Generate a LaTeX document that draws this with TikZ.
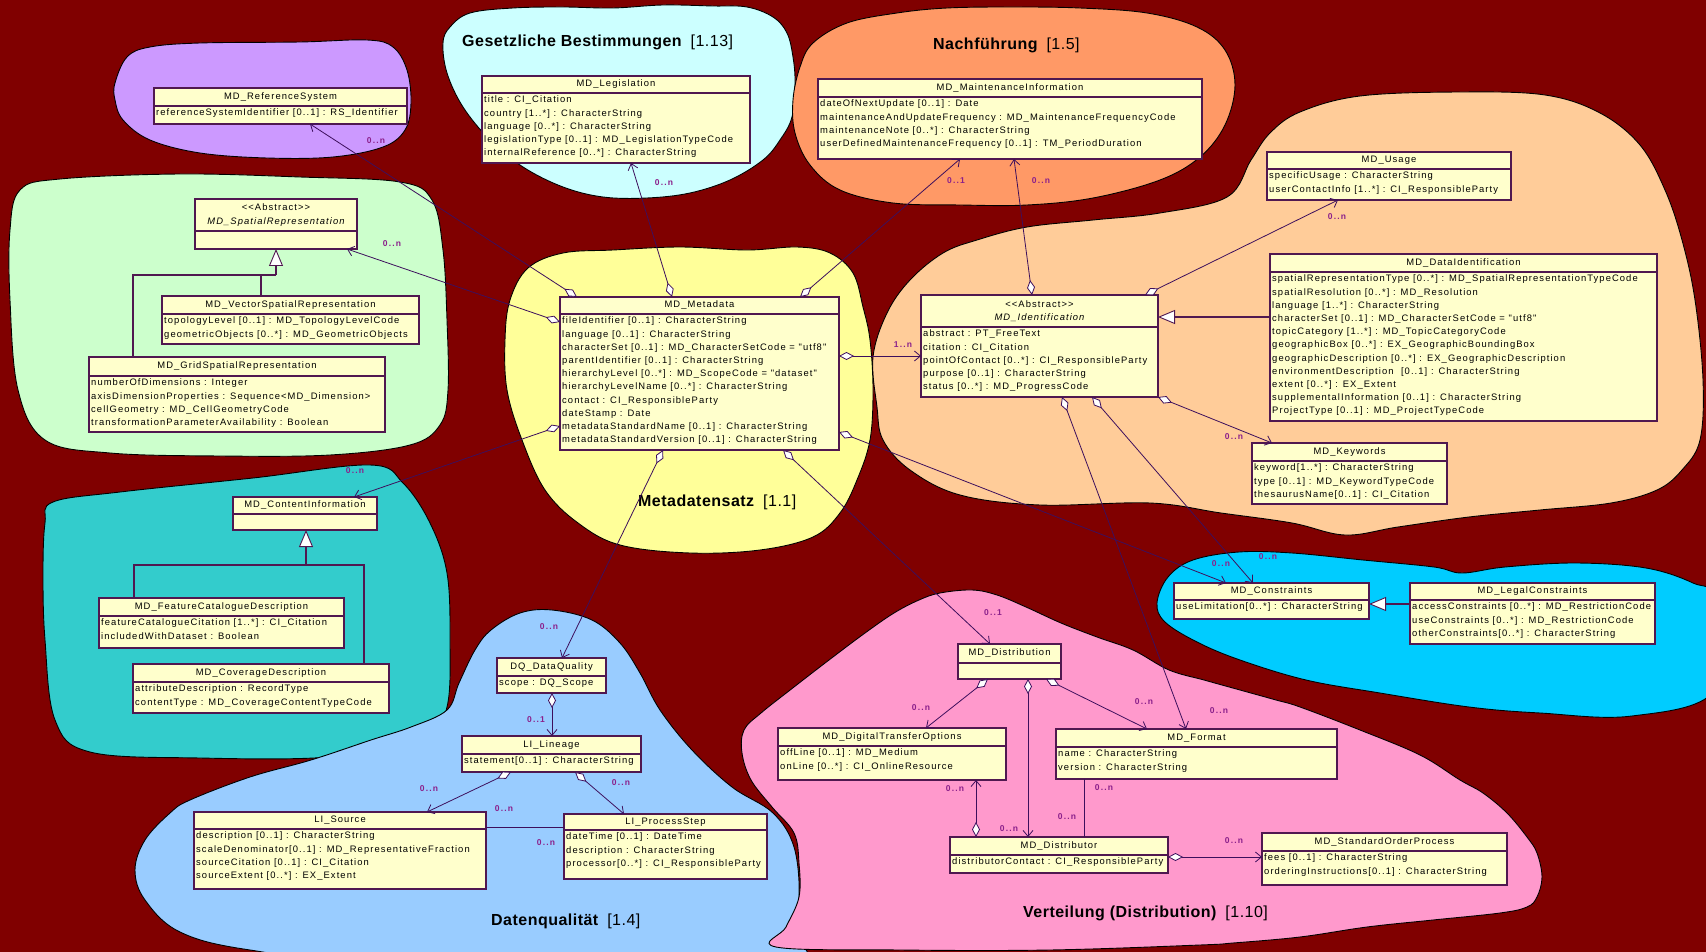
\documentclass[tikz,border=0pt]{standalone}
\usepackage{fontspec}
\setmainfont{Liberation Sans}
\newfontfamily\umlfont[LetterSpace=11.5]{Liberation Sans}
\newfontfamily\multfont[LetterSpace=14]{Liberation Sans}
\newfontfamily\areafont[LetterSpace=3]{Liberation Sans}
\usetikzlibrary{arrows.meta}

\definecolor{bgred}{HTML}{800000}
\definecolor{lilac}{HTML}{CC99FF}
\definecolor{palecyan}{HTML}{CCFFFF}
\definecolor{apricot}{HTML}{FF9966}
\definecolor{palegreen}{HTML}{CCFFCC}
\definecolor{paleyellow}{HTML}{FFFF99}
\definecolor{peach}{HTML}{FFCC99}
\definecolor{teal}{HTML}{33CCCC}
\definecolor{skycyan}{HTML}{00CCFF}
\definecolor{paleblue}{HTML}{99CCFF}
\definecolor{rosepink}{HTML}{FF99CC}
\definecolor{boxfill}{HTML}{FFFFCC}
\definecolor{boxborder}{HTML}{501850}
\definecolor{connline}{HTML}{3D0F5C}
\definecolor{multcol}{HTML}{8B208B}

% one UML class: name, x1, y1, x2, y2, y of the divider, header, attributes
\newcommand\umlclass[8]{%
  \node[classbox, anchor=north west, minimum width={(#4-#2)*1pt},
        minimum height={(#5-#3)*1pt}] (#1) at (#2,#3) {};
  \draw[divider] (#2,#6) -- (#4,#6);
  \node[headtext] at ({(#2+#4)/2},{(#3+#6)/2}) {\rule[-2pt]{0pt}{8.6pt}#7};
  \node[attrtext] at ({#2+2},{#6+2.7}) {\rule{0pt}{7pt}#8};
}

\begin{document}
\begin{tikzpicture}[x=1pt,y=-1pt,
  blob/.style={draw=black, line width=0.9pt},
  classbox/.style={draw=boxborder, fill=boxfill, line width=1.1pt, inner sep=0pt, outer sep=0pt},
  divider/.style={draw=boxborder, line width=1.1pt},
  headtext/.style={font=\umlfont\fontsize{9.4}{13.2}\selectfont, inner sep=0pt, align=center},
  attrtext/.style={font=\umlfont\fontsize{9.4}{13.2}\selectfont, inner sep=0pt, align=left, anchor=north west},
  mult/.style={font=\multfont\bfseries\fontsize{8.5}{10}\selectfont, text=multcol, inner sep=0pt},
  areatitle/.style={font=\areafont\fontsize{16}{19}\selectfont, text=black, inner sep=0pt, anchor=west},
  conn/.style={draw=connline, line width=0.8pt},
  agg/.style={conn, arrows={Diamond[fill=white,length=15pt,width=8pt]-Straight Barb[length=6pt,width=10pt]}},
  gen/.style={draw=boxborder, line width=1.1pt, arrows={-Triangle[fill=white,length=17pt,width=14pt,line width=0.9pt]}},
  tree/.style={draw=boxborder, line width=1.1pt}
]
\useasboundingbox (0,0) rectangle (1706,952);
\fill[bgred] (0,0) rectangle (1706,952);

% subject areas
\begin{scope}
\clip (0,0) rectangle (1706,952);
\draw[blob, fill=lilac] plot[smooth cycle, tension=0.6] coordinates {
  (115,83) (127,57) (150,47) (200,43) (300,42) (367,40) (393,47) (407,70) (411,103)
  (405,130) (383,147) (333,157) (267,158) (200,153) (150,140) (123,120) (115,100)};
\draw[blob, fill=palecyan] plot[smooth cycle, tension=0.6] coordinates {
  (443,43) (450,27) (470,13) (513,8) (563,7) (613,8) (663,5) (713,6) (747,7) (773,17)
  (787,33) (793,57) (795,83) (792,117) (780,140) (763,160) (730,180) (690,193) (647,198)
  (603,197) (563,187) (523,167) (490,140) (463,107) (447,73)};
\draw[blob, fill=apricot] plot[smooth cycle, tension=0.6] coordinates {
  (795,133) (793,100) (800,67) (813,43) (847,23) (897,13) (947,8) (1013,7) (1080,8)
  (1147,13) (1197,27) (1225,50) (1235,85) (1225,125) (1200,157) (1160,180) (1093,198)
  (1027,205) (960,205) (893,203) (840,190) (810,165)};
\draw[blob, fill=palegreen] plot[smooth cycle, tension=0.6] coordinates {
  (20,190) (60,179) (180,174) (300,177) (400,182) (432,200) (443,250) (447,320) (448,390)
  (440,425) (410,445) (330,455) (220,456) (110,453) (45,440) (18,390) (10,300) (10,230)};
\draw[blob, fill=peach] plot[smooth cycle, tension=0.6] coordinates {
  (877,407) (873,357) (887,313) (910,280) (943,253) (977,240) (1027,227) (1093,220)
  (1160,213) (1227,197) (1251,160) (1270,133) (1300,112) (1360,96) (1460,92) (1545,95)
  (1600,113) (1640,145) (1665,190) (1682,240) (1695,300) (1703,380) (1700,440) (1682,470)
  (1657,490) (1611,503) (1540,510) (1469,517) (1398,527) (1345,535) (1292,523) (1221,513)
  (1150,503) (1040,505) (960,495) (910,470) (883,440)};
\draw[blob, fill=paleyellow] plot[smooth cycle, tension=0.6] coordinates {
  (510,300) (528,268) (563,253) (613,250) (680,247) (747,250) (797,247) (830,253)
  (853,273) (863,307) (870,340) (873,390) (870,440) (857,480) (840,513) (813,537)
  (760,550) (690,553) (620,545) (578,523) (545,490) (522,440) (507,390) (505,340)};
\draw[blob, fill=teal] plot[smooth cycle, tension=0.6] coordinates {
  (53,502) (120,492) (253,478) (370,465) (403,483) (430,523) (447,573) (450,640)
  (447,707) (425,740) (330,757) (200,758) (90,752) (55,720) (45,640) (43,573) (45,523)};
\draw[blob, fill=skycyan] plot[smooth cycle, tension=0.6] coordinates {
  (1157,603) (1168,577) (1193,560) (1239,552) (1292,553) (1363,560) (1434,567) (1462,573)
  (1505,567) (1576,563) (1646,568) (1693,583) (1715,600) (1715,690) (1632,716) (1540,713)
  (1469,707) (1380,693) (1306,680) (1240,660) (1197,642) (1165,622)};
\draw[blob, fill=paleblue] plot[smooth cycle, tension=0.6] coordinates {
  (520,613) (552,610) (592,620) (620,643) (640,673) (660,710) (692,750) (732,787)
  (773,813) (794,847) (799,897) (790,930) (776,965) (400,965) (250,950) (180,932)
  (145,900) (135,870) (145,840) (170,813) (190,800) (250,777) (311,760) (371,740)
  (411,727) (447,710) (459,683) (475,650) (491,630)};
\draw[blob, fill=rosepink] plot[smooth cycle, tension=0.6] coordinates {
  (894,613) (919,600) (940,593) (972,590) (997,595) (1026,607) (1061,623) (1097,637)
  (1133,650) (1169,670) (1204,680) (1240,690) (1276,700) (1300,707) (1360,730) (1420,755)
  (1460,780) (1483,793) (1507,813) (1527,837) (1537,853) (1542,877) (1537,897) (1527,907)
  (1500,913) (1433,920) (1367,927) (1300,937) (1233,943) (1200,945) (1050,950) (900,950)
  (776,947) (786,927) (799,897) (799,863) (794,833) (772,807) (751,780) (742,753)
  (744,730) (761,713) (794,687) (829,660) (865,633)};
\end{scope}

% area titles
\node[areatitle] at (462,42) {\bfseries Gesetzliche Bestimmungen\hspace{9pt}\mdseries[1.13]};
\node[areatitle] at (933,45) {\bfseries Nachführung\hspace{9pt}\mdseries[1.5]};
\node[areatitle] at (638,502) {\bfseries Metadatensatz\hspace{9pt}\mdseries[1.1]};
\node[areatitle] at (491,921) {\bfseries Datenqualität\hspace{9pt}\mdseries[1.4]};
\node[areatitle] at (1023,913) {\bfseries Verteilung (Distribution)\hspace{9pt}\mdseries[1.10]};

% classes
\umlclass{refsys}{154}{88}{407}{124}{106}{MD\_ReferenceSystem}
  {referenceSystemIdentifier [0..1] : RS\_Identifier}
\umlclass{legis}{482}{76}{750}{163}{93}{MD\_Legislation}
  {title : CI\_Citation\\country [1..*] : CharacterString\\language [0..*] : CharacterString\\legislationType [0..1] : MD\_LegislationTypeCode\\internalReference [0..*] : CharacterString}
\umlclass{maint}{818}{79}{1202}{159}{97}{MD\_MaintenanceInformation}
  {dateOfNextUpdate [0..1] : Date\\maintenanceAndUpdateFrequency : MD\_MaintenanceFrequencyCode\\maintenanceNote [0..*] : CharacterString\\userDefinedMaintenanceFrequency [0..1] : TM\_PeriodDuration}
\umlclass{usage}{1267}{152}{1511}{200}{169}{MD\_Usage}
  {specificUsage : CharacterString\\userContactInfo [1..*] : CI\_ResponsibleParty}
\umlclass{spatial}{195}{199}{357}{249}{231}{<{}<Abstract>{}>\\\itshape MD\_SpatialRepresentation}{}
\umlclass{vector}{162}{296}{419}{344}{314}{MD\_VectorSpatialRepresentation}
  {topologyLevel [0..1] : MD\_TopologyLevelCode\\geometricObjects [0..*] : MD\_GeometricObjects}
\umlclass{grid}{89}{357}{385}{432}{376}{MD\_GridSpatialRepresentation}
  {numberOfDimensions : Integer\\axisDimensionProperties : Sequence<MD\_Dimension>\\cellGeometry : MD\_CellGeometryCode\\transformationParameterAvailability : Boolean}
\umlclass{meta}{560}{297}{839}{450}{314}{MD\_Metadata}
  {fileIdentifier [0..1] : CharacterString\\language [0..1] : CharacterString\\characterSet [0..1] : MD\_CharacterSetCode = "utf8"\\parentIdentifier [0..1] : CharacterString\\hierarchyLevel [0..*] : MD\_ScopeCode = "dataset"\\hierarchyLevelName [0..*] : CharacterString\\contact : CI\_ResponsibleParty\\dateStamp : Date\\metadataStandardName [0..1] : CharacterString\\metadataStandardVersion [0..1] : CharacterString}
\umlclass{ident}{921}{295}{1158}{397}{327}{<{}<Abstract>{}>\\\itshape MD\_Identification}
  {abstract : PT\_FreeText\\citation : CI\_Citation\\pointOfContact [0..*] : CI\_ResponsibleParty\\purpose [0..1] : CharacterString\\status [0..*] : MD\_ProgressCode}
\umlclass{dataid}{1270}{254}{1657}{421}{272}{MD\_DataIdentification}
  {spatialRepresentationType [0..*] : MD\_SpatialRepresentationTypeCode\\spatialResolution [0..*] : MD\_Resolution\\language [1..*] : CharacterString\\characterSet [0..1] : MD\_CharacterSetCode = "utf8"\\topicCategory [1..*] : MD\_TopicCategoryCode\\geographicBox [0..*] : EX\_GeographicBoundingBox\\geographicDescription [0..*] : EX\_GeographicDescription\\environmentDescription\ \ [0..1] : CharacterString\\extent [0..*] : EX\_Extent\\supplementalInformation [0..1] : CharacterString\\ProjectType [0..1] : MD\_ProjectTypeCode}
\umlclass{keyw}{1252}{443}{1447}{504}{461}{MD\_Keywords}
  {keyword[1..*] : CharacterString\\type [0..1] : MD\_KeywordTypeCode\\thesaurusName[0..1] : CI\_Citation}
\umlclass{constr}{1174}{583}{1369}{619}{600}{MD\_Constraints}
  {useLimitation[0..*] : CharacterString}
\umlclass{legal}{1410}{583}{1655}{644}{600}{MD\_LegalConstraints}
  {accessConstraints [0..*] : MD\_RestrictionCode\\useConstraints [0..*] : MD\_RestrictionCode\\otherConstraints[0..*] : CharacterString}
\umlclass{content}{233}{497}{377}{530}{514}{MD\_ContentInformation}{}
\umlclass{featcat}{99}{598}{344}{648}{616}{MD\_FeatureCatalogueDescription}
  {featureCatalogueCitation [1..*] : CI\_Citation\\includedWithDataset : Boolean}
\umlclass{coverage}{133}{664}{389}{713}{682}{MD\_CoverageDescription}
  {attributeDescription : RecordType\\contentType : MD\_CoverageContentTypeCode}
\umlclass{dq}{497}{658}{606}{693}{676}{DQ\_DataQuality}{scope : DQ\_Scope}
\umlclass{lineage}{462}{736}{641}{772}{754}{LI\_Lineage}{statement[0..1] : CharacterString}
\umlclass{source}{194}{812}{486}{889}{829}{LI\_Source}
  {description [0..1] : CharacterString\\scaleDenominator[0..1] : MD\_RepresentativeFraction\\sourceCitation [0..1] : CI\_Citation\\sourceExtent [0..*] : EX\_Extent}
\umlclass{pstep}{564}{814}{767}{879}{830}{LI\_ProcessStep}
  {dateTime [0..1] : DateTime\\description : CharacterString\\processor[0..*] : CI\_ResponsibleParty}
\umlclass{distr}{958}{644}{1061}{679}{663}{MD\_Distribution}{}
\umlclass{dto}{778}{728}{1006}{780}{746}{MD\_DigitalTransferOptions}
  {offLine [0..1] : MD\_Medium\\onLine [0..*] : CI\_OnlineResource}
\umlclass{format}{1056}{729}{1337}{779}{747}{MD\_Format}
  {name : CharacterString\\version : CharacterString}
\umlclass{distor}{950}{837}{1168}{873}{855}{MD\_Distributor}
  {distributorContact : CI\_ResponsibleParty}
\umlclass{sop}{1262}{833}{1507}{885}{851}{MD\_StandardOrderProcess}
  {fees [0..1] : CharacterString\\orderingInstructions[0..1] : CharacterString}

% associations of MD_Metadata
\draw[agg] ([xshift=17pt]meta.north west) -- ([xshift=156pt]refsys.south west);
\draw[agg] ([xshift=112pt]meta.north west) -- ([xshift=149pt]legis.south west);
\draw[agg] ([xshift=240pt]meta.north west) -- ([xshift=142pt]maint.south west);
\draw[agg] ([yshift=-25pt]meta.north west) -- ([xshift=152pt]spatial.south west);
\draw[agg] ([yshift=-129pt]meta.north west) -- ([xshift=121pt]content.north west);
\draw[agg] ([yshift=-59pt]meta.north east) -- ([yshift=-61pt]ident.north west);
\draw[agg] ([yshift=-135pt]meta.north east) -- ([xshift=52pt]constr.north west);
\draw[agg] ([xshift=103pt]meta.south west) -- ([xshift=65pt]dq.north west);
\draw[agg] ([xshift=223pt]meta.south west) -- ([xshift=32pt]distr.north west);

% associations of MD_Identification
\draw[agg] ([xshift=111pt]ident.north west) -- ([xshift=196pt]maint.south west);
\draw[agg] ([xshift=224pt]ident.north west) -- ([xshift=71pt]usage.south west);
\draw[agg] (ident.south east) -- ([xshift=20pt]keyw.north west);
\draw[agg] ([xshift=141pt]ident.south west) -- ([xshift=130pt]format.north west);
\draw[agg] ([xshift=171pt]ident.south west) -- ([xshift=79pt]constr.north west);

% generalisations
\draw[gen] ([yshift=-63pt]dataid.north west) -- ([yshift=-22pt]ident.north east);
\draw[gen] ([yshift=-21pt]legal.north west) -- ([yshift=-21pt]constr.north east);
\coordinate (sjoin) at (276,275);
\draw[gen] (sjoin) -- ([xshift=81pt]spatial.south west);
\draw[tree] ([xshift=44pt]grid.north west) |- (sjoin);
\draw[tree] ([xshift=99pt]vector.north west) |- (sjoin);
\coordinate (cjoin) at (306,565);
\draw[gen] (cjoin) -- ([xshift=73pt]content.south west);
\draw[tree] ([xshift=35pt]featcat.north west) |- (cjoin);
\draw[tree] ([xshift=231pt]coverage.north west) |- (cjoin);

% distribution
\draw[agg] ([xshift=30pt]distr.south west) -- ([xshift=148pt]dto.north west);
\draw[agg] ([xshift=70pt]distr.south west) -- ([xshift=78pt]distor.north west);
\draw[agg] ([xshift=88pt]distr.south west) -- ([xshift=91pt]format.north west);
\draw[agg] ([xshift=26pt]distor.north west) -- ([xshift=198pt]dto.south west);
\draw[conn] ([xshift=28pt]format.south west) -- ([xshift=134pt]distor.north west);
\draw[agg] ([yshift=-20pt]distor.north east) -- ([yshift=-24pt]sop.north west);

% data quality
\draw[agg] ([xshift=55pt]dq.south west) -- ([xshift=90pt]lineage.north west);
\draw[agg] ([xshift=49pt]lineage.south west) -- ([xshift=233pt]source.north west);
\draw[agg] ([xshift=113pt]lineage.south west) -- ([xshift=60pt]pstep.north west);
\draw[conn] ([yshift=-15pt]source.north east) -- ([yshift=-13pt]pstep.north west);

% multiplicities
\node[mult] at (376,141) {0..n};
\node[mult] at (664,183) {0..n};
\node[mult] at (956,181) {0..1};
\node[mult] at (1041,181) {0..n};
\node[mult] at (1337,217) {0..n};
\node[mult] at (392,244) {0..n};
\node[mult] at (355,471) {0..n};
\node[mult] at (903,345) {1..n};
\node[mult] at (1234,437) {0..n};
\node[mult] at (1221,564) {0..n};
\node[mult] at (1268,557) {0..n};
\node[mult] at (549,627) {0..n};
\node[mult] at (536,720) {0..1};
\node[mult] at (429,789) {0..n};
\node[mult] at (621,783) {0..n};
\node[mult] at (504,809) {0..n};
\node[mult] at (546,843) {0..n};
\node[mult] at (993,613) {0..1};
\node[mult] at (921,708) {0..n};
\node[mult] at (1144,702) {0..n};
\node[mult] at (1219,711) {0..n};
\node[mult] at (1009,829) {0..n};
\node[mult] at (955,789) {0..n};
\node[mult] at (1104,788) {0..n};
\node[mult] at (1067,817) {0..n};
\node[mult] at (1234,841) {0..n};
\end{tikzpicture}
\end{document}
